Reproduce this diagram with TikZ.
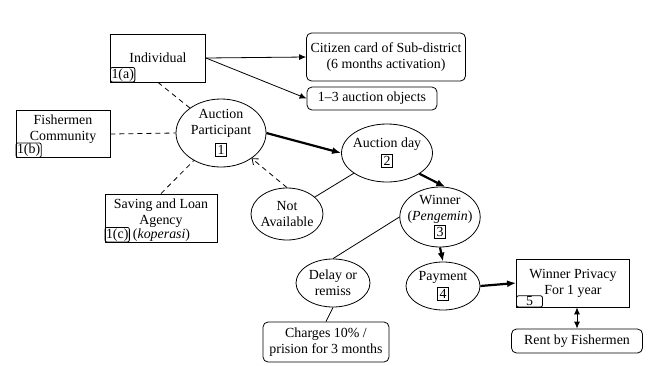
\documentclass[tikz,border=0pt]{standalone}
\usepackage{fontspec}
\setmainfont{Liberation Serif}
\usepackage{tikz}
\usetikzlibrary{arrows.meta,positioning,shapes.geometric}

\newcommand{\stepno}[1]{{\setlength{\fboxsep}{1.5pt}\setlength{\fboxrule}{0.8pt}\fbox{#1}}}

\begin{document}
\begin{tikzpicture}[
	x=1pt, y=-1pt,
	font=\fontsize{13.9}{16}\selectfont,
	box/.style={draw, line width=0.8pt, align=center, inner sep=3pt},
	roundbox/.style={box, rounded corners=5pt},
	tagbox/.style={draw, line width=0.8pt, rounded corners=2pt, inner sep=1pt, anchor=south west},
	oval/.style={draw, line width=0.8pt, ellipse, align=center, inner sep=-4pt},
	arrow/.style={-{Latex[length=7pt,width=6pt]}, line width=0.8pt},
	bigarrow/.style={-{Latex[length=9pt,width=7pt]}, line width=2.2pt},
	link/.style={line width=0.8pt},
	dashlink/.style={line width=0.8pt, dash pattern=on 5pt off 4pt}
]
\useasboundingbox (0,0) rectangle (662,365);

% participants
\node[box, minimum width=95pt, minimum height=48pt] (indiv) at (158,58) {Individual};
\node[tagbox] (taga) at (indiv.south west) {1(a)};
\node[box, minimum width=94pt, minimum height=47pt] (fisher) at (63,134) {Fishermen\\Community\\[-4pt]\mbox{}};
\node[tagbox] (tagb) at (fisher.south west) {1(b)};
\node[box, minimum width=112pt, minimum height=48pt] (saving) at (161,218) {Saving and Loan\\Agency\\[-4pt]\mbox{}};
\node[tagbox] (tagc) at (saving.south west) {1(c)};
\node[right=2pt of tagc, inner sep=1pt] (kop) {(\textit{koperasi})};

% requirements
\node[roundbox, minimum width=159pt, minimum height=48pt] (citizen) at (386,57) {Citizen card of Sub-district\\(6 months activation)};
\node[roundbox, minimum width=130pt, minimum height=23pt] (objects) at (372,98.5) {1--3 auction objects};

% auction steps
\node[oval, minimum width=90pt, minimum height=68pt] (ap) at (221,133) {Auction\\Participant\\[4pt]\stepno{1}};
\node[oval, minimum width=91pt, minimum height=58pt] (aday) at (387,153) {Auction day\\[2pt]\stepno{2}};
\node[oval, minimum width=72pt, minimum height=52pt] (na) at (287,214) {Not\\Available};
\node[oval, minimum width=79pt, minimum height=60pt] (winner) at (440,217) {Winner\\(\textit{Pengemin})\\\stepno{3}};
\node[oval, minimum width=74pt, minimum height=48pt] (payment) at (443,286) {Payment\\[2pt]\stepno{4}};
\node[oval, minimum width=74pt, minimum height=48pt] (delay) at (333,283) {Delay or\\remiss};
\node[roundbox, minimum width=126pt, minimum height=40pt] (charges) at (326,342) {Charges 10\% /\\prision for 3 months};
\node[box, minimum width=113pt, minimum height=48pt] (privacy) at (573,283) {Winner Privacy\\For 1 year};
\node[tagbox, minimum width=26pt] (tagv) at (privacy.south west) {5};
\node[roundbox, minimum width=131pt, minimum height=24pt] (rent) at (577,341) {Rent by Fishermen};

\draw[arrow] (indiv.east) -- (citizen.west);
\draw[arrow] (indiv.east) -- (objects.west);
\draw[dashlink] (indiv.south) -- (ap);
\draw[dashlink] (fisher.east) -- (ap.west);
\draw[dashlink] (saving.north) -- (ap);
\draw[dashlink, -{Straight Barb[length=5pt,width=8pt]}] (na.north) -- (ap);
\draw[bigarrow] (ap.east) -- (aday.west);
\draw[link] (na) -- (aday);
\draw[bigarrow] (aday.south east) -- (winner.80);
\draw[link] (winner.west) -- (delay.north);
\draw[bigarrow] (winner.south) -- (payment.north);
\draw[bigarrow] (payment.east) -- (privacy.west);
\draw[link] (delay.south) -- (charges.north);
\draw[{Latex[length=7pt,width=6pt]}-{Latex[length=7pt,width=6pt]}, line width=0.8pt] (privacy.south -| rent.north) -- (rent.north);
\end{tikzpicture}
\end{document}
